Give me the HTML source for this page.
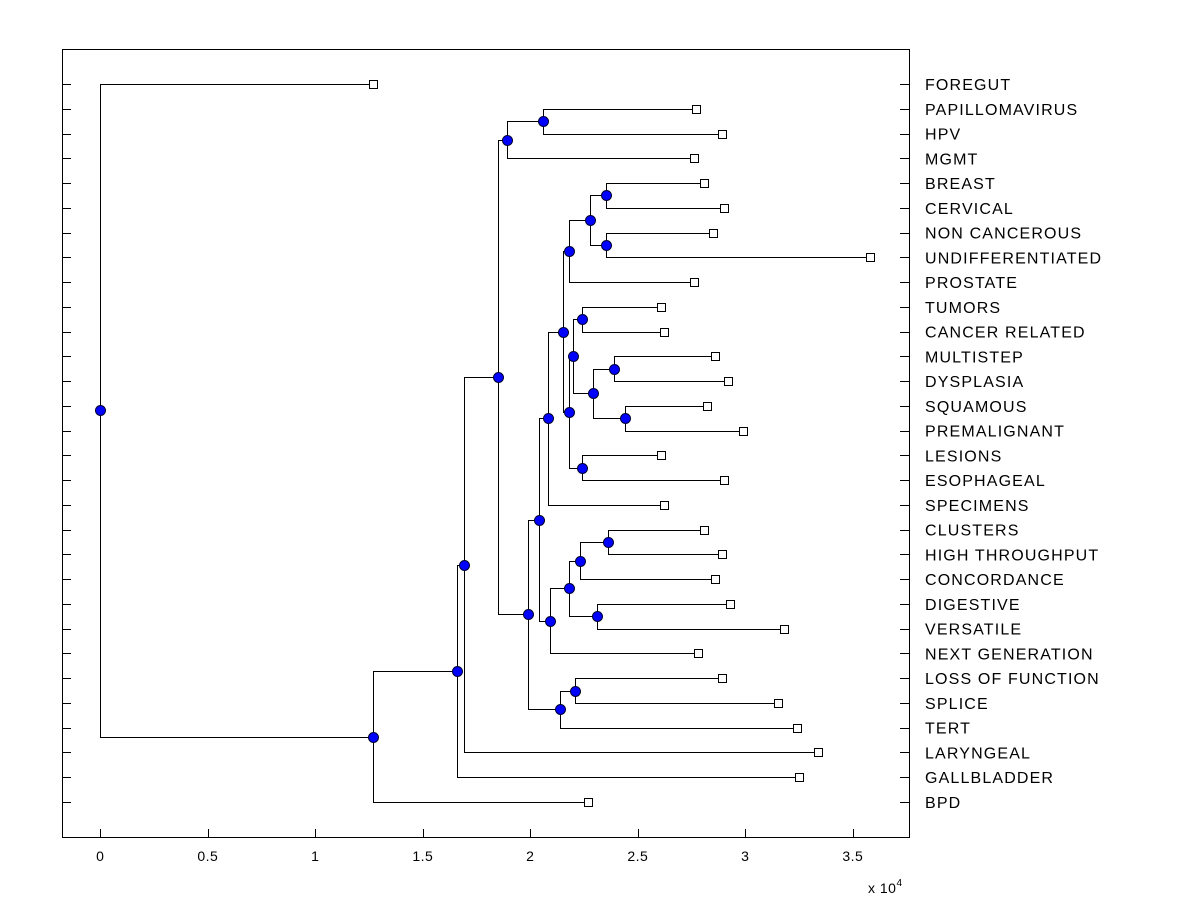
<!DOCTYPE html>
<html><head><meta charset="utf-8"><style>
body{margin:0;background:#fff}
svg text{font-family:"Liberation Sans",Arial,sans-serif;fill:#000}
</style></head><body>
<svg id="chart" width="1200" height="900" viewBox="0 0 1200 900" xmlns="http://www.w3.org/2000/svg">
<rect x="0" y="0" width="1200" height="900" fill="#fff"/>
<rect x="62.5" y="49.5" width="847" height="788" fill="#fff" stroke="#000" stroke-width="1"/>
<g id="ticks"></g><g id="links"></g><g id="marks"></g><g id="labels"></g>
<text x="868" y="893" font-size="14" letter-spacing="0.5">x 10<tspan font-size="10" dy="-7">4</tspan></text>
</svg>
<script>
const leafNames=["FOREGUT","PAPILLOMAVIRUS","HPV","MGMT","BREAST","CERVICAL","NON CANCEROUS","UNDIFFERENTIATED","PROSTATE","TUMORS","CANCER RELATED","MULTISTEP","DYSPLASIA","SQUAMOUS","PREMALIGNANT","LESIONS","ESOPHAGEAL","SPECIMENS","CLUSTERS","HIGH THROUGHPUT","CONCORDANCE","DIGESTIVE","VERSATILE","NEXT GENERATION","LOSS OF FUNCTION","SPLICE","TERT","LARYNGEAL","GALLBLADDER","BPD"];
const leafHeights=[1.27,2.77,2.89,2.76,2.81,2.90,2.85,3.58,2.76,2.61,2.62,2.86,2.92,2.82,2.99,2.61,2.90,2.62,2.81,2.89,2.86,2.93,3.18,2.78,2.89,3.15,3.24,3.34,3.25,2.27];
const mergeChildren=[[1,2],[30,3],[4,5],[6,7],[32,33],[34,8],[9,10],[11,12],[13,14],[37,38],[36,39],[15,16],[40,41],[35,42],[43,17],[18,19],[45,20],[21,22],[46,47],[48,23],[44,49],[24,25],[51,26],[50,52],[31,53],[54,27],[55,28],[56,29],[0,57]];
const mergeHeights=[2.06,1.89,2.35,2.35,2.28,2.18,2.24,2.39,2.44,2.29,2.20,2.24,2.18,2.15,2.08,2.36,2.23,2.31,2.18,2.09,2.04,2.21,2.14,1.99,1.85,1.69,1.66,1.27,0];
const xTicks=[0,0.5,1,1.5,2,2.5,3,3.5];
const xTickLabels=["0","0.5","1","1.5","2","2.5","3","3.5"];

const NS="http://www.w3.org/2000/svg";
const X=v=>100.3+v*215;
const Yleaf=i=>84+i*(718/29);
const px=v=>Math.round(v)+0.5;
function mk(tag,attrs,parent){const e=document.createElementNS(NS,tag);for(const k in attrs)e.setAttribute(k,attrs[k]);document.getElementById(parent).appendChild(e);return e;}
const n=leafNames.length;
const nx=[],ny=[];
leafHeights.forEach((h,i)=>{nx[i]=X(h);ny[i]=Yleaf(i);});
mergeChildren.forEach((c,k)=>{const id=n+k;nx[id]=X(mergeHeights[k]);ny[id]=(ny[c[0]]+ny[c[1]])/2;});
xTicks.forEach((t,i)=>{
 const l=mk('line',{x1:px(X(t)),x2:px(X(t)),y1:838,y2:829,stroke:'#000'},'ticks');
 
 
 const tx=mk('text',{x:X(t),y:861,'font-size':14,'text-anchor':'middle','letter-spacing':0.5},'ticks');
 tx.textContent=xTickLabels[i];
 
 
});
leafNames.forEach((nm,i)=>{
 const y=px(Yleaf(i));
 const l=mk('line',{x1:62,x2:71,y1:y,y2:y,stroke:'#000'},'ticks');
 
 
 const r=mk('line',{x1:900,x2:909,y1:y,y2:y,stroke:'#000'},'ticks');
 
 
 const t=mk('text',{x:925,y:Yleaf(i)+6,'font-size':16,'letter-spacing':1.15},'labels');
 t.textContent=nm;
 
 
});
mergeChildren.forEach((c,k)=>{
 const id=n+k,x=px(nx[id]);
 const p=mk('path',{d:`M${px(nx[c[0]])},${px(ny[c[0]])}H${x}V${px(ny[c[1]])}H${px(nx[c[1]])}`,fill:'none',stroke:'#000','stroke-width':1},'links');
 
 
});
leafHeights.forEach((h,i)=>{
 const r=mk('rect',{x:px(nx[i])-4,y:px(ny[i])-4,width:8,height:8,fill:'#fff',stroke:'#000'},'marks');
 
 
});
mergeChildren.forEach((c,k)=>{
 const id=n+k;
 const d=mk('circle',{cx:px(nx[id]),cy:px(ny[id]),r:5,fill:'#0000ff',stroke:'#000030','stroke-width':1},'marks');
 
 
});
</script>
</body></html>
